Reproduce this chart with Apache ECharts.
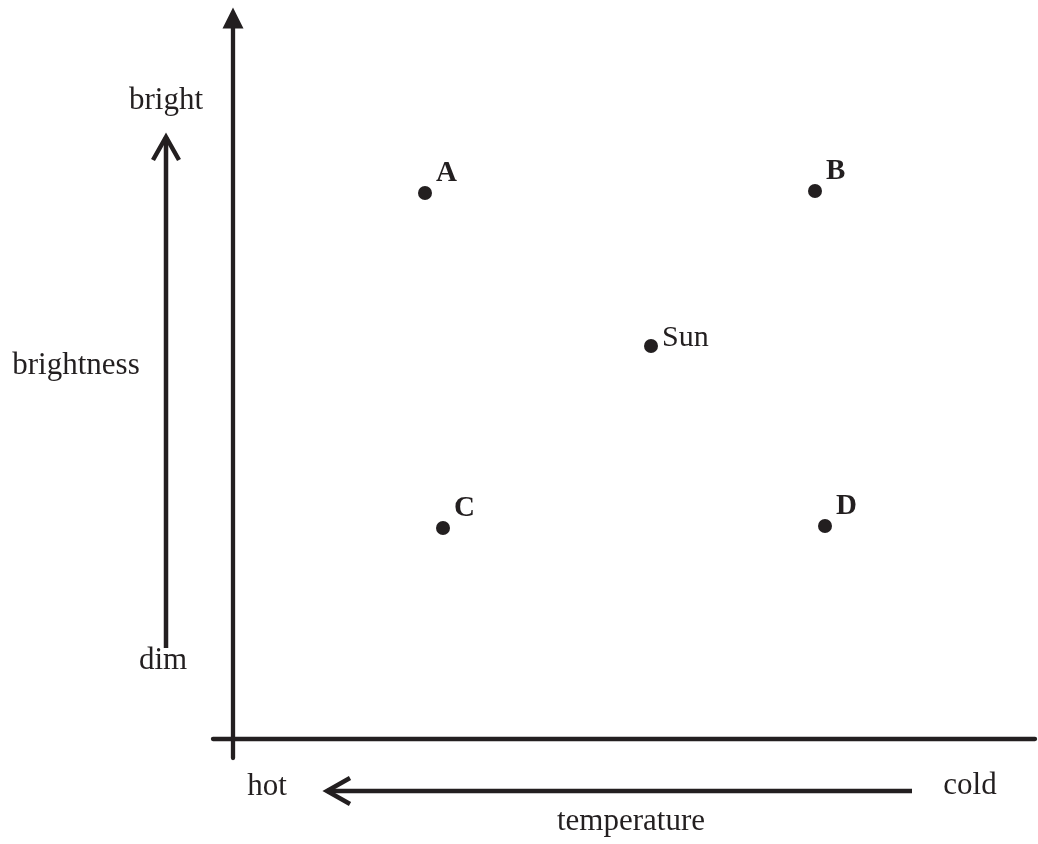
<!DOCTYPE html>
<html>
<head>
<meta charset="utf-8">
<script src="https://cdn.jsdelivr.net/npm/echarts@6/dist/echarts.min.js"></script>
<style>
html,body{margin:0;padding:0;background:#fff;}
#main{width:1038px;height:844px;}
</style>
</head>
<body>
<div id="main"></div>
<script>
// Star names and their (conceptual) positions on the diagram
var starNames = ['A', 'B', 'Sun', 'C', 'D'];
var temperatureValues = [19.2, 58.2, 41.8, 21.0, 59.2];
var brightnessValues = [54.6, 54.8, 39.3, 21.1, 21.3];
var boldStars = ['A', 'B', 'C', 'D'];
// Annotation texts
var axisTexts = {bright: 'bright', dim: 'dim', brightness: 'brightness', hot: 'hot', cold: 'cold', temperature: 'temperature'};

var INK = '#231f20';
var FONT = '"Liberation Serif", "Times New Roman", serif';

var points = starNames.map(function (n, i) {
  var bold = boldStars.indexOf(n) >= 0;
  return {
    name: n,
    value: [temperatureValues[i], brightnessValues[i]],
    label: bold ? {fontWeight: 'bold', offset: [0, -19], fontSize: 29} : {fontWeight: 'normal', offset: [0, -8], fontSize: 30}
  };
});

function txt(t, x, y) {
  return {type: 'text', x: x, y: y, style: {text: t, font: '31px ' + FONT, fill: INK, align: 'center', verticalAlign: 'middle'}, z: 10};
}

var chart = echarts.init(document.getElementById('main'));
chart.setOption({
  backgroundColor: '#fff',
  animation: false,
  grid: {left: 213, right: 3, top: 18, bottom: 86, containLabel: false, outerBoundsMode: 'none'},
  xAxis: {
    type: 'value', min: -2, max: 80.2,
    axisLine: {show: true, onZero: true, lineStyle: {color: INK, width: 4.3}},
    axisTick: {show: false}, axisLabel: {show: false}, splitLine: {show: false}
  },
  yAxis: {
    type: 'value', min: -1.9, max: 72.1,
    axisLine: {show: true, onZero: true, symbol: ['none', 'triangle'], symbolSize: [21, 21], lineStyle: {color: INK, width: 4.3}},
    axisTick: {show: false}, axisLabel: {show: false}, splitLine: {show: false}
  },
  series: [{
    type: 'scatter',
    symbol: 'circle',
    symbolSize: 14,
    itemStyle: {color: INK, opacity: 1},
    emphasis: {disabled: true},
    label: {
      show: true, position: 'right', distance: 4,
      formatter: '{b}', color: INK, opacity: 1, fontFamily: FONT
    },
    data: points
  }],
  graphic: [
    {type: 'line', shape: {x1: 166, y1: 648, x2: 166, y2: 137}, style: {stroke: INK, lineWidth: 4.5}},
    {type: 'polyline', shape: {points: [[153, 160], [166, 137], [179, 160]]}, style: {stroke: INK, lineWidth: 4.5, fill: null, lineJoin: 'miter'}},
    {type: 'line', shape: {x1: 327, y1: 791, x2: 912, y2: 791}, style: {stroke: INK, lineWidth: 4.5}},
    {type: 'polyline', shape: {points: [[350, 778], [327, 791], [350, 804]]}, style: {stroke: INK, lineWidth: 4.5, fill: null, lineJoin: 'miter'}},
    txt(axisTexts.bright, 166, 101),
    txt(axisTexts.brightness, 76, 366),
    txt(axisTexts.dim, 163, 661),
    txt(axisTexts.hot, 267, 787),
    txt(axisTexts.cold, 970, 786),
    txt(axisTexts.temperature, 631, 822)
  ]
});
</script>
</body>
</html>
